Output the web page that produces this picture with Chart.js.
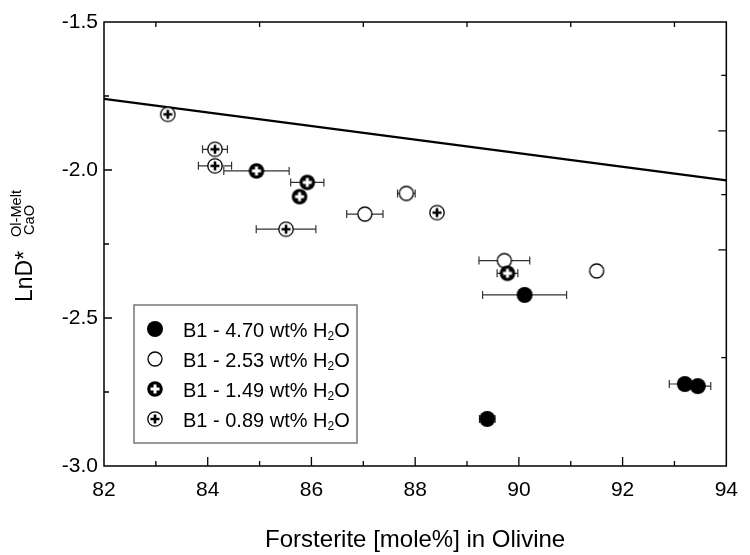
<!DOCTYPE html>
<html>
<head>
<meta charset="utf-8">
<script src="https://cdn.jsdelivr.net/npm/chart.js@4"></script>
<style>
  html, body { margin: 0; padding: 0; background: #fff; }
</style>
</head>
<body>
<canvas id="myChart" width="750" height="555"></canvas>
<script>
// forsterite (x), LnD* (y) and x error for each water content
const fo470 = [90.11, 89.39, 93.20, 93.45]
const lnd470 = [-2.422, -2.841, -2.723, -2.730]
const err470 = [0.81, 0.15, 0.30, 0.25]

const fo253 = [87.03, 87.83, 89.72, 91.50]
const lnd253 = [-2.149, -2.079, -2.306, -2.341]
const err253 = [0.35, 0.17, 0.49, 0]

const fo149 = [84.94, 85.92, 85.77, 89.78]
const lnd149 = [-2.003, -2.042, -2.090, -2.349]
const err149 = [0.63, 0.32, 0, 0.20]

const fo089 = [83.23, 84.14, 84.14, 85.51, 88.42]
const lnd089 = [-1.812, -1.930, -1.986, -2.200, -2.144]
const err089 = [0, 0.24, 0.32, 0.575, 0]

// fitted line
const fitX = [82, 94]
const fitY = [-1.76, -2.035]

const waterLabels = ['4.70', '2.53', '1.49', '0.89']

// inner tick marks
const xMajorTicks = [84, 86, 88, 90, 92]
const xMinorTicks = [83, 85, 87, 89, 91, 93]
const topTicks = [83, 85, 87, 89, 91, 93]
const yMajorTicks = [-2.0, -2.5]
const yMinorTicks = [-1.75, -2.25, -2.75]
const rightLongTicks = [-1.868, -2.270]
const rightShortTicks = [-1.680, -2.083, -2.634]

const FONT = "'Liberation Sans', Arial, sans-serif"

// marker images
function makeMarker(kind) {
  const c = document.createElement('canvas')
  c.width = 18; c.height = 18
  const g = c.getContext('2d')
  g.beginPath()
  if (kind == 'filled') {
    g.arc(9, 9, 8, 0, Math.PI * 2)
    g.fillStyle = '#000'; g.fill()
  } else if (kind == 'open') {
    g.arc(9, 9, 7, 0, Math.PI * 2)
    g.fillStyle = '#fff'; g.fill()
    g.lineWidth = 1.3; g.strokeStyle = '#000'; g.stroke()
  } else if (kind == 'boldplus') {
    g.arc(9, 9, 7.8, 0, Math.PI * 2)
    g.fillStyle = '#000'; g.fill()
    g.beginPath()
    g.moveTo(4.5, 9); g.lineTo(13.5, 9); g.moveTo(9, 4.5); g.lineTo(9, 13.5)
    g.lineWidth = 3; g.strokeStyle = '#fff'; g.stroke()
  } else {
    g.arc(9, 9, 7.2, 0, Math.PI * 2)
    g.fillStyle = '#fff'; g.fill()
    g.lineWidth = 1.3; g.strokeStyle = '#000'; g.stroke()
    g.beginPath()
    g.moveTo(4.5, 9); g.lineTo(13.5, 9); g.moveTo(9, 4.5); g.lineTo(9, 13.5)
    g.lineWidth = 2.6; g.stroke()
  }
  return c
}

const markers = [makeMarker('filled'), makeMarker('open'), makeMarker('boldplus'), makeMarker('plus')]

function pts(xs, ys) {
  return xs.map((v, i) => ({x: v, y: ys[i]}))
}

const seriesX = [fo470, fo253, fo149, fo089]
const seriesY = [lnd470, lnd253, lnd149, lnd089]
const seriesErr = [err470, err253, err149, err089]

const datasets = seriesX.map((xs, i) => ({
  label: 'B1 - ' + waterLabels[i] + ' wt% H₂O',
  data: pts(xs, seriesY[i]),
  xErr: seriesErr[i],
  pointStyle: markers[i],
  order: 4 - i
}))

datasets.push({
  label: 'fit',
  data: pts(fitX, fitY),
  showLine: true,
  borderColor: '#000',
  borderWidth: 2.2,
  pointRadius: 0,
  order: 10
})

// horizontal error bars
const errorBars = {
  id: 'errorBars',
  beforeDatasetsDraw(chart) {
    const {ctx, scales: {x, y}} = chart
    ctx.save()
    ctx.strokeStyle = '#333'
    ctx.lineWidth = 1.2
    chart.data.datasets.forEach(ds => {
      if (!ds.xErr) return
      ds.data.forEach((p, i) => {
        const e = ds.xErr[i]
        if (!e) return
        const x1 = x.getPixelForValue(p.x - e)
        const x2 = x.getPixelForValue(p.x + e)
        const py = y.getPixelForValue(p.y)
        ctx.beginPath()
        ctx.moveTo(x1, py); ctx.lineTo(x2, py)
        ctx.moveTo(x1, py - 4); ctx.lineTo(x1, py + 4)
        ctx.moveTo(x2, py - 4); ctx.lineTo(x2, py + 4)
        ctx.stroke()
      })
    })
    ctx.restore()
  }
}

// frame with inward ticks
const axisFrame = {
  id: 'axisFrame',
  beforeDatasetsDraw(chart) {
    const {ctx, chartArea: a, scales: {x, y}} = chart
    ctx.save()
    ctx.strokeStyle = '#000'
    ctx.lineWidth = 1.5
    ctx.strokeRect(a.left, a.top, a.right - a.left, a.bottom - a.top)
    ctx.beginPath()
    xMajorTicks.forEach(v => { const p = x.getPixelForValue(v); ctx.moveTo(p, a.bottom); ctx.lineTo(p, a.bottom - 9) })
    xMinorTicks.forEach(v => { const p = x.getPixelForValue(v); ctx.moveTo(p, a.bottom); ctx.lineTo(p, a.bottom - 5) })
    topTicks.forEach(v => { const p = x.getPixelForValue(v); ctx.moveTo(p, a.top); ctx.lineTo(p, a.top + 5) })
    yMajorTicks.forEach(v => { const p = y.getPixelForValue(v); ctx.moveTo(a.left, p); ctx.lineTo(a.left + 8, p) })
    yMinorTicks.forEach(v => { const p = y.getPixelForValue(v); ctx.moveTo(a.left, p); ctx.lineTo(a.left + 5, p) })
    rightLongTicks.forEach(v => { const p = y.getPixelForValue(v); ctx.moveTo(a.right, p); ctx.lineTo(a.right - 8, p) })
    rightShortTicks.forEach(v => { const p = y.getPixelForValue(v); ctx.moveTo(a.right, p); ctx.lineTo(a.right - 5, p) })
    ctx.lineWidth = 1.3
    ctx.stroke()
    ctx.restore()
  }
}

// legend box and y title (need sub/superscripts)
const extras = {
  id: 'extras',
  afterDraw(chart) {
    const ctx = chart.ctx
    ctx.save()

    // legend
    ctx.fillStyle = '#fff'
    ctx.fillRect(134, 305, 223, 138)
    ctx.strokeStyle = '#777'
    ctx.lineWidth = 1.5
    ctx.strokeRect(134, 305, 223, 138)
    ctx.fillStyle = '#000'
    ctx.textBaseline = 'middle'
    waterLabels.forEach((w, i) => {
      const cy = 331 + i * 30
      ctx.drawImage(markers[i], 155 - 9, cy - 2 - 9)
      ctx.font = '20px ' + FONT
      let t = 'B1 - ' + w + ' wt% H'
      ctx.fillText(t, 183, cy)
      let tx = 183 + ctx.measureText(t).width
      ctx.font = '12px ' + FONT
      ctx.fillText('2', tx, cy + 6)
      tx += ctx.measureText('2').width
      ctx.font = '20px ' + FONT
      ctx.fillText('O', tx, cy)
    })

    // y axis title
    ctx.translate(32, 302)
    ctx.rotate(-Math.PI / 2)
    ctx.textBaseline = 'alphabetic'
    ctx.font = '23px ' + FONT
    ctx.fillText('LnD*', 0, 0)
    ctx.font = '14.6px ' + FONT
    ctx.fillText('Ol-Melt', 65, -11.3)
    ctx.fillText('CaO', 67, 1.5)
    ctx.restore()
  }
}

const ctx = document.getElementById('myChart')

new Chart(ctx, {
  type: 'scatter',
  data: { datasets: datasets },
  options: {
    responsive: false,
    animation: false,
    layout: { padding: { top: 22, right: 13, left: 0, bottom: 0 } },
    plugins: {
      legend: { display: false },
      tooltip: { enabled: false }
    },
    scales: {
      x: {
        type: 'linear',
        min: 82,
        max: 94,
        grid: { display: false, drawTicks: false },
        border: { display: false },
        ticks: {
          stepSize: 2,
          padding: 12,
          color: '#000',
          font: { family: FONT, size: 21 }
        },
        title: {
          display: true,
          text: 'Forsterite [mole%] in Olivine',
          color: '#000',
          font: { family: FONT, size: 24 },
          padding: { top: 0, bottom: 0 }
        },
        afterFit(scale) { scale.height = 89 }
      },
      y: {
        type: 'linear',
        min: -3,
        max: -1.5,
        grid: { display: false, drawTicks: false },
        border: { display: false },
        ticks: {
          stepSize: 0.5,
          padding: 6,
          color: '#000',
          font: { family: FONT, size: 21 },
          callback: v => v.toFixed(1)
        },
        afterFit(scale) { scale.width = 104 }
      }
    }
  },
  plugins: [errorBars, axisFrame, extras]
})
</script>
</body>
</html>
